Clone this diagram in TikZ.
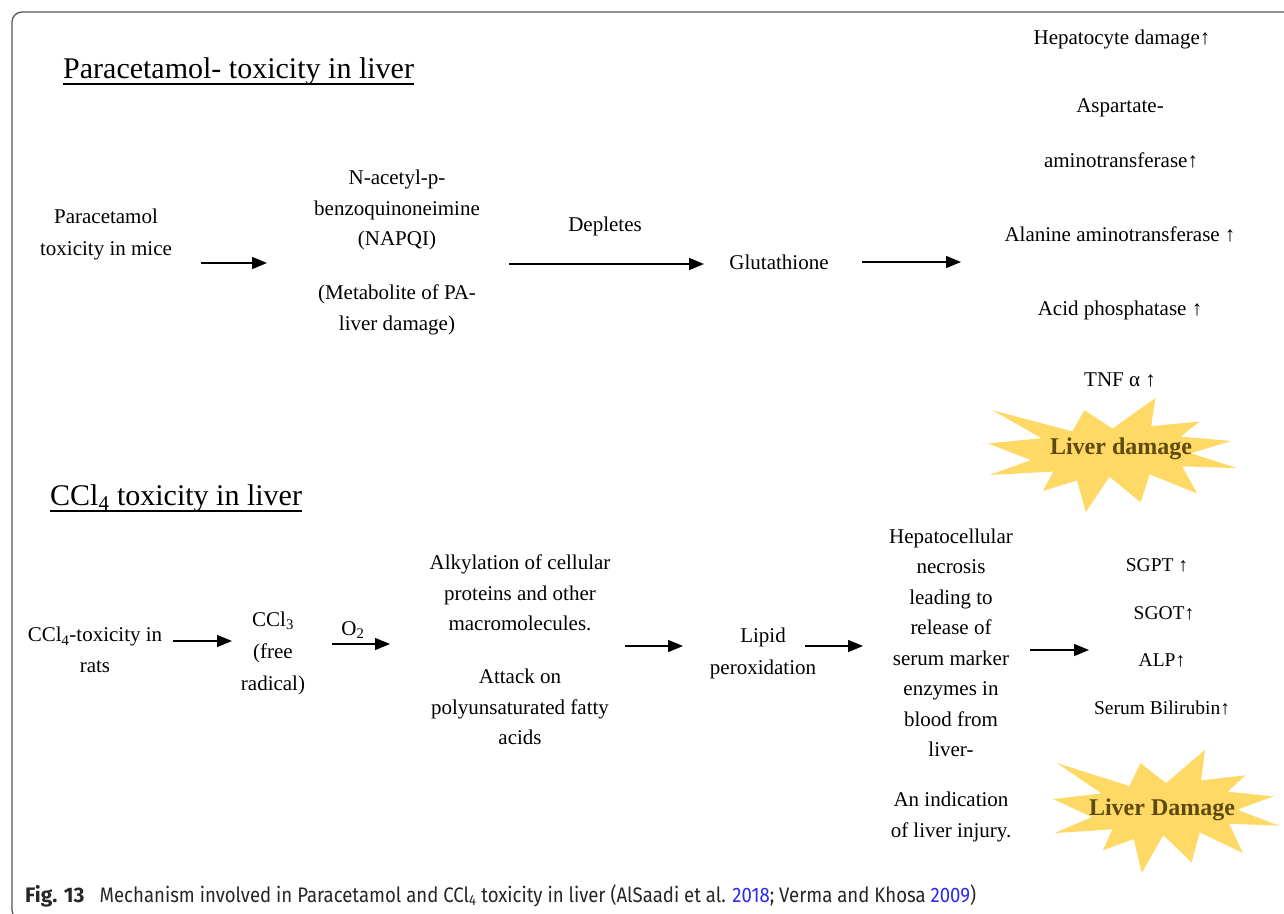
\documentclass[tikz,border=0pt]{standalone}
\usepackage{fontspec}
\setmainfont{Liberation Serif}
\newfontfamily\capfont[FakeStretch=0.885]{Fira Sans}
\newfontfamily\caplabel{Fira Sans}
\usetikzlibrary{arrows.meta}

\definecolor{burstc}{HTML}{FFD966}
\definecolor{bursttext}{HTML}{5C4A0E}
\definecolor{framec}{HTML}{555555}
\definecolor{linkblue}{HTML}{2B2BE8}

\tikzset{
  txt/.style={align=center, inner sep=0pt, font=\fontsize{21}{30.5}\selectfont},
  marker/.style={inner sep=0pt, font=\fontsize{19.5}{24}\selectfont},
  ttl/.style={inner sep=0pt, font=\fontsize{30}{34}\selectfont},
  uline/.style={line width=1.3pt},
  arr/.style={line width=1.5pt, -{Triangle[length=15pt,width=12pt]}},
  bursttxt/.style={inner sep=0pt, font=\fontsize{24}{28}\selectfont\bfseries, text=bursttext},
}

% Office-style "explosion" outline in a 216 x 216 box: #1,#2 top-left, #3 width, #4 height
\newcommand\drawburst[4]{%
  \fill[burstc, shift={(#1,#2)}, xscale=#3/216, yscale=#4/216]
    (108,58) -- (145.22,0) -- (141.55,53.25) -- (183.80,44.57) -- (167.02,73.15)
    -- (210.97,81.37) -- (176.07,104.75) -- (216,132.90) -- (168.37,129.42)
    -- (181.45,180.95) -- (140.20,144.57) -- (132.47,197.37) -- (105.32,149.35)
    -- (84.85,216) -- (77.15,156.27) -- (47.62,176.17) -- (56.67,139.37)
    -- (1.35,145.87) -- (37.22,117.75) -- (0,86.15) -- (46.27,76.17)
    -- (3.70,22.95) -- (73.12,63.20) -- (83.52,22.95) -- cycle;}

\begin{document}
\begin{tikzpicture}[x=1pt,y=-1pt]
\useasboundingbox (0,0) rectangle (1284,913);
\clip (0,0) rectangle (1284,913);

% frame
\draw[framec, line width=1.3pt, rounded corners=10pt]
  (1300,12) -- (12,12) -- (12,920) -- (40,920);

% headings
\node[ttl, anchor=base west] (t1) at (63,78) {Paracetamol- toxicity in liver};
\draw[uline] ([yshift=-6pt]t1.base west) -- ([yshift=-6pt]t1.base east);
\node[ttl, anchor=base west] (t2) at (50,505) {CCl\textsubscript{4} toxicity in liver};
\draw[uline] ([yshift=-6pt]t2.base west) -- ([yshift=-6pt]t2.base east);

% starbursts
\drawburst{988}{398}{249}{114}
\drawburst{1053}{750}{226}{123}
\node[bursttxt] (ld1) at (1121,449) {Liver damage};
\node[bursttxt] (ld2) at (1162,810) {Liver Damage};

% paracetamol pathway
\node[txt] (pm) at (106,234) {Paracetamol\\[1.5pt]toxicity in mice};
\node[txt] (napqi) at (397,210) {N-acetyl-p-\\benzoquinoneimine\\(NAPQI)};
\node[txt] (meta) at (397,310) {(Metabolite of PA-\\liver damage)};
\node[txt] (depl) at (605,226) {Depletes};
\node[txt] (glut) at (779,262) {Glutathione};

\node[txt] (r1) at (1122,39) {Hepatocyte damage↑};
\node[txt] (r2) at (1120,108) {Aspartate-};
\node[txt] (r3) at (1121,160) {aminotransferase↑};
\node[txt] (r4) at (1120,234) {Alanine aminotransferase ↑};
\node[txt] (r5) at (1120,310) {Acid phosphatase ↑};
\node[txt] (r6) at (1120,380) {TNF α ↑};

\coordinate (a1s) at (201,263); \coordinate (a1e) at (267,263);
\coordinate (a2s) at (509,264); \coordinate (a2e) at (704,264);
\coordinate (a3s) at (862,262); \coordinate (a3e) at (961,262);
\draw[arr] (a1s) -- (a1e);
\draw[arr] (a2s) -- (a2e);
\draw[arr] (a3s) -- (a3e);

% CCl4 pathway
\node[txt] (ccl4) at (95,650) {CCl\textsubscript{4}-toxicity in\\rats};
\node[txt] (ccl3) at (273,653) {CCl\textsubscript{3}\\[1.5pt](free\\[1.5pt]radical)};
\node[txt] (o2) at (353,630) {O\textsubscript{2}};
\node[txt] (alk) at (520,593) {Alkylation of cellular\\proteins and other\\macromolecules.};
\node[txt] (att) at (520,707) {Attack on\\polyunsaturated fatty\\acids};
\node[txt] (lip) at (763,653) {Lipid\\[1.5pt]peroxidation};
\node[txt] (hep) at (951,643) {Hepatocellular\\necrosis\\leading to\\release of\\serum marker\\enzymes in\\blood from\\liver-};
\node[txt] (ind) at (951,817) {An indication\\of liver injury.};

\node[marker] (m1) at (1157,565) {SGPT ↑};
\node[marker] (m2) at (1164,613) {SGOT↑};
\node[marker] (m3) at (1162,660) {ALP↑};
\node[marker] (m4) at (1162,708) {Serum Bilirubin↑};

\coordinate (b1s) at (173,641); \coordinate (b1e) at (232,641);
\coordinate (b2s) at (332,644); \coordinate (b2e) at (390,644);
\coordinate (b3s) at (625,646); \coordinate (b3e) at (683,646);
\coordinate (b4s) at (805,646); \coordinate (b4e) at (863,646);
\coordinate (b5s) at (1030,650); \coordinate (b5e) at (1089,650);
\draw[arr] (b1s) -- (b1e);
\draw[arr] (b2s) -- (b2e);
\draw[arr] (b3s) -- (b3e);
\draw[arr] (b4s) -- (b4e);
\draw[arr] (b5s) -- (b5e);

% caption
\node[anchor=base west, inner sep=0pt, font=\capfont\fontsize{21}{24}\selectfont, text=black!85] (cap) at (25,902)
  {{\caplabel\bfseries Fig. 13}\hspace{15pt}Mechanism involved in Paracetamol and CCl\textsubscript{4} toxicity in liver (AlSaadi et al. \textcolor{linkblue}{2018}; Verma and Khosa \textcolor{linkblue}{2009})};
\end{tikzpicture}
\end{document}
